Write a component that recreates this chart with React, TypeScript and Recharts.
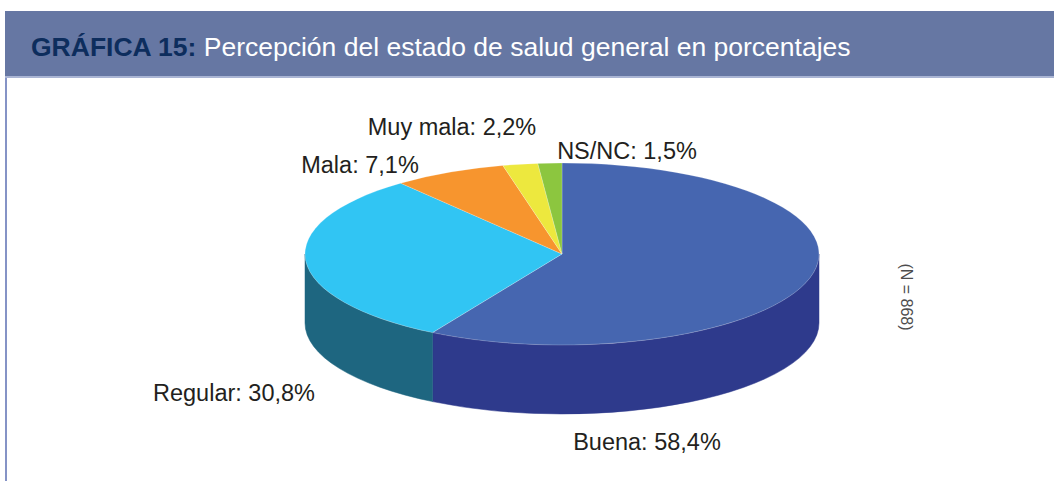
import React from "react";
import { PieChart, Pie, Cell } from "recharts";

// ---- data ----
const categories = ["Buena", "Regular", "Mala", "Muy mala", "NS/NC"];
const values = [58.4, 30.8, 7.1, 2.2, 1.5];
const sampleNote = "(N = 868)";
const titleBold = "GRÁFICA 15:";
const titleRest = " Percepción del estado de salud general en porcentajes";

// ---- styles ----
const topColors = ["#4666b0", "#31c5f3", "#f7952e", "#ede83e", "#8cc63f"];
const sideColors = ["#2e3a8c", "#1e6680", "#b86a1c", "#b0aa2a", "#5f8f2a"];
// label offsets (relative to the pie centre), layout only
const labelOffsets = [
  [85, 196],
  [-328, 147],
  [-202, -81],
  [-110, -119],
  [65, -95],
];

const WIDTH = 1054;
const HEIGHT = 481;
const CX = 562;
const CY = 254;
const RX = 257;
const RY_RATIO = 91 / 257;
const DEPTH_RATIO = 69 / 257;

const pieData = categories.map((name, i) => ({ name, value: values[i] }));
const idxOf = (name: string) => categories.indexOf(name);

const fmt = (v: number) => v.toFixed(1).replace(".", ",") + "%";

const renderSlice = (props: any) => {
  const { cx, cy, startAngle, endAngle, outerRadius, fill } = props;
  const name = props.payload?.name ?? props.name;
  const i = idxOf(name);
  const rx = outerRadius;
  const ry = outerRadius * RY_RATIO;
  const depth = outerRadius * DEPTH_RATIO;
  const rad = Math.PI / 180;
  // clockwise-from-top angles
  const t0 = 90 - startAngle;
  const t1 = 90 - endAngle;
  const pt = (t: number, dy = 0) => [
    cx + rx * Math.sin(t * rad),
    cy - ry * Math.cos(t * rad) + dy,
  ];
  const [x0, y0] = pt(t0);
  const [x1, y1] = pt(t1);
  const large = t1 - t0 > 180 ? 1 : 0;
  const topPath = `M${cx},${cy} L${x0},${y0} A${rx},${ry} 0 ${large} 1 ${x1},${y1} Z`;

  let sidePath: string | null = null;
  const lo = Math.max(t0, 90);
  const hi = Math.min(t1, 270);
  if (hi > lo) {
    const [ax, ay] = pt(lo);
    const [bx, by] = pt(hi);
    const [cx2, cy2] = pt(hi, depth);
    const [dx, dy] = pt(lo, depth);
    const lg = hi - lo > 180 ? 1 : 0;
    sidePath = `M${ax},${ay} A${rx},${ry} 0 ${lg} 1 ${bx},${by} L${cx2},${cy2} A${rx},${ry} 0 ${lg} 0 ${dx},${dy} Z`;
  }
  return (
    <g>
      {sidePath && (
        <path d={sidePath} fill={sideColors[i]} stroke={sideColors[i]} strokeWidth={0.5} />
      )}
      <path d={topPath} fill={fill} stroke="#ffffff" strokeOpacity={0.35} strokeWidth={0.6} />
    </g>
  );
};

const renderLabel = (props: any) => {
  const { cx, cy } = props;
  const name = props.payload?.name ?? props.name;
  const i = idxOf(name);
  const [ox, oy] = labelOffsets[i];
  return (
    <text
      x={cx + ox}
      y={cy + oy}
      textAnchor="middle"
      fill="#231f20"
      fontSize={23.5}
      fontFamily="'Liberation Sans', Arial, sans-serif"
    >
      {`${name}: ${fmt(values[i])}`}
    </text>
  );
};

export default function App() {
  return (
    <div
      style={{
        position: "absolute",
        left: 0,
        top: 0,
        width: WIDTH,
        height: HEIGHT,
        background: "#ffffff",
        overflow: "hidden",
        fontFamily: "'Liberation Sans', Arial, sans-serif",
      }}
    >
      {/* header band */}
      <div
        style={{
          position: "absolute",
          left: 5,
          top: 11,
          width: WIDTH - 5,
          height: 67,
          background: "#6677a3",
          borderBottom: "2px solid #aab5d4",
          boxSizing: "border-box",
        }}
      />
      <div
        style={{
          position: "absolute",
          left: 31,
          top: 31,
          fontSize: 26.5,
          lineHeight: "32px",
          whiteSpace: "nowrap",
          color: "#ffffff",
        }}
      >
        <span style={{ fontWeight: "bold", color: "#0d2d5d" }}>{titleBold}</span>
        <span>{titleRest}</span>
      </div>
      {/* left border */}
      <div
        style={{
          position: "absolute",
          left: 5,
          top: 78,
          width: 2,
          height: HEIGHT - 78,
          background: "#8593c6",
        }}
      />
      <div style={{ position: "absolute", left: 0, top: 0 }}>
        <PieChart
          width={WIDTH}
          height={HEIGHT}
          margin={{ top: 0, right: 0, bottom: 0, left: 0 }}
        >
          <Pie
            data={pieData}
            dataKey="value"
            nameKey="name"
            cx={CX}
            cy={CY}
            outerRadius={RX}
            innerRadius={0}
            startAngle={90}
            endAngle={-270}
            stroke="none"
            isAnimationActive={false}
            shape={renderSlice}
            inactiveShape={renderSlice}
            activeShape={renderSlice}
            label={renderLabel}
            labelLine={false}
          >
            {pieData.map((d, i) => (
              <Cell key={d.name} fill={topColors[i]} />
            ))}
          </Pie>
        </PieChart>
      </div>
      {/* sample size note, rotated */}
      <div
        style={{
          position: "absolute",
          left: 906,
          top: 297,
          transform: "translate(-50%, -50%) rotate(90deg)",
          fontSize: 16,
          color: "#4d4d4d",
          whiteSpace: "nowrap",
        }}
      >
        {sampleNote}
      </div>
    </div>
  );
}
